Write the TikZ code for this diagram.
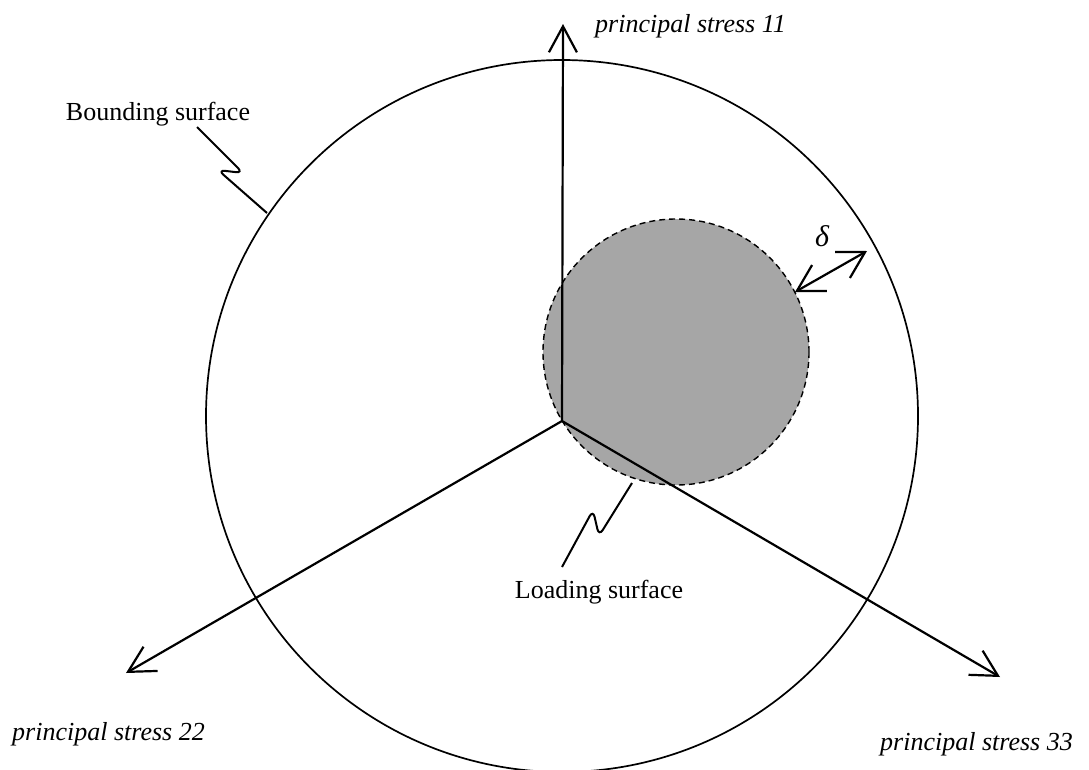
\documentclass[tikz,border=0pt]{standalone}
\usepackage{fontspec}
\setmainfont{Liberation Serif}
\usetikzlibrary{arrows.meta}
\definecolor{loadgray}{RGB}{166,166,166}
\tikzset{
  axis/.style={line width=2.2pt, -{Straight Barb[length=26pt,width=28pt,line width=2.2pt]}},
  dbl/.style={line width=2.2pt, {Straight Barb[length=26pt,width=30pt,line width=2.2pt]}-{Straight Barb[length=26pt,width=30pt,line width=2.2pt]}},
  surf/.style={line width=1.7pt},
  loadsurf/.style={fill=loadgray, line width=1.4pt, dash pattern=on 6pt off 4pt},
  leader/.style={line width=2pt, rounded corners=7pt},
  lbl/.style={font=\fontsize{26}{30}\selectfont, inner sep=0pt},
  ilbl/.style={font=\fontsize{26}{30}\selectfont\itshape, inner sep=0pt},
}
\begin{document}
\begin{tikzpicture}[x=1pt,y=-1pt]
\useasboundingbox (0,0) rectangle (1089,769);
\begin{scope}
\clip (0,0) rectangle (1089,769);
\draw[surf] (562,416) circle (356);
\end{scope}
\draw[loadsurf] (676,352) circle (133);
% axes
\coordinate (O) at (562,421);
\coordinate (t11) at (563,24);
\coordinate (t22) at (126,673);
\coordinate (t33) at (1000,677);
\draw[axis] (O) -- (t11);
\draw[axis] (O) -- (t22);
\draw[axis] (O) -- (t33);
% delta
\coordinate (d1) at (795,292);
\coordinate (d2) at (867,251);
\draw[dbl] (d1) -- (d2);
\node[ilbl, font=\fontsize{30}{34}\selectfont\itshape] (delta) at (822,236) {δ};
% labels
\node[ilbl, anchor=base west] (l11) at (595,32) {principal stress 11};
\node[ilbl, anchor=base west] (l22) at (12,740) {principal stress 22};
\node[ilbl, anchor=base west] (l33) at (880,750) {principal stress 33};
\node[lbl, anchor=base] (bs) at (158,120) {Bounding surface};
\node[lbl, anchor=base] (ls) at (599,598) {Loading surface};
% leaders
\coordinate (b0) at (197,127);
\coordinate (b3) at (267,213);
\draw[leader] (b0) -- (243,173) -- (218,170) -- (b3);
\coordinate (s0) at (632,483);
\coordinate (s3) at (562,567);
\draw[leader] (s0) -- (599,536) -- (593,510) -- (s3);
\end{tikzpicture}
\end{document}
